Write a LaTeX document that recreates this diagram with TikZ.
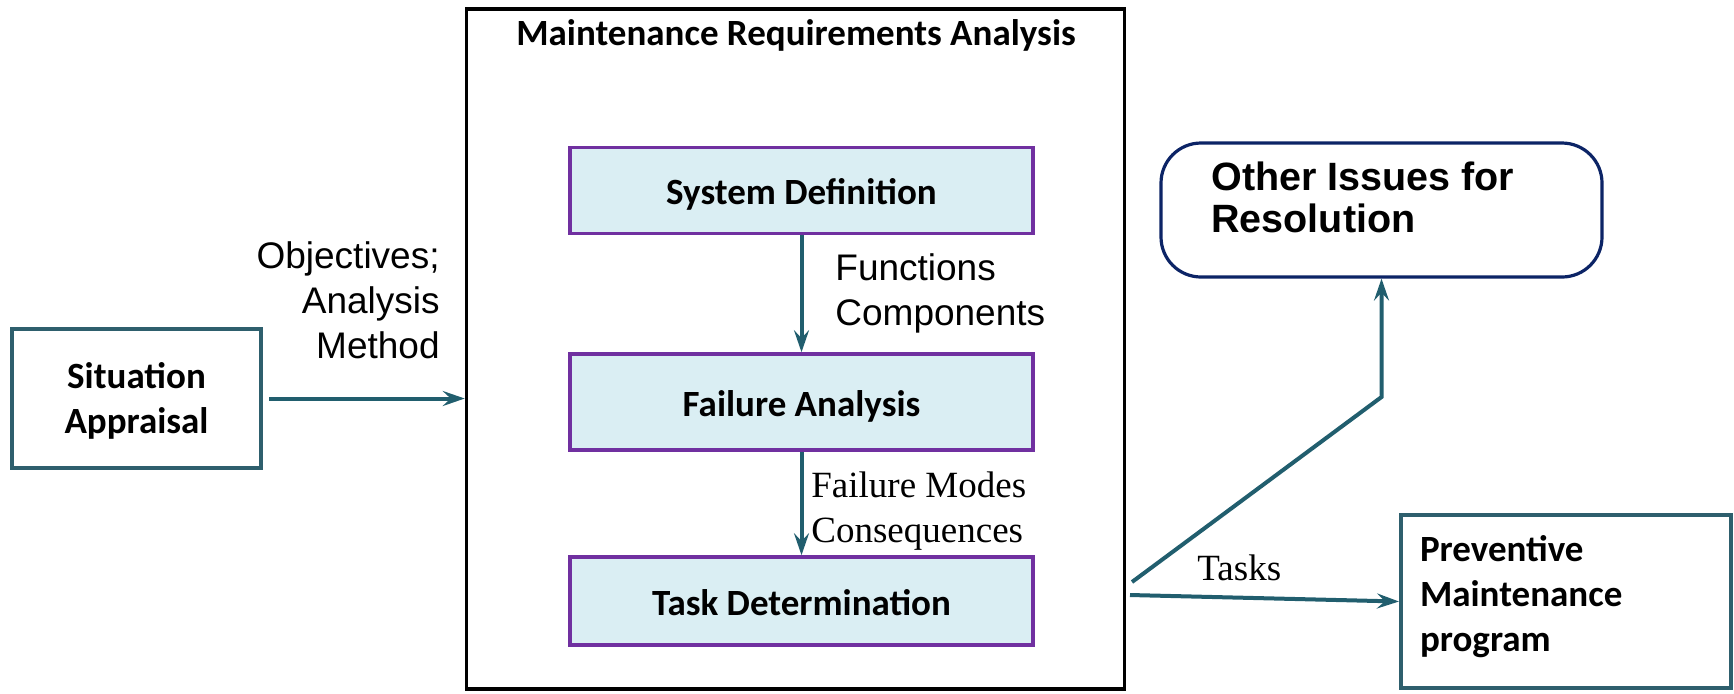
\documentclass[tikz,border=0pt]{standalone}
\usepackage{fontspec}
\setmainfont{Liberation Serif}
\newfontfamily\carlito{Carlito}
\newfontfamily\arialf{Liberation Sans}
\usetikzlibrary{arrows.meta}
\definecolor{tealA}{HTML}{215E6E}
\definecolor{tealB}{HTML}{2E5F6D}
\definecolor{purpleA}{HTML}{7030A0}
\definecolor{fillA}{HTML}{DAEEF3}
\definecolor{navyA}{HTML}{0C2466}
\begin{document}
\begin{tikzpicture}[x=0.5pt,y=-0.5pt,
  arr/.style={draw=tealA, line width=2pt, -{Stealth[length=11pt,width=7.5pt,inset=4pt]}},
  cbold/.style={font=\carlito\bfseries\fontsize{18.5}{22.5}\selectfont},
  ibox/.style={cbold, draw=purpleA, fill=fillA, line width=1.8pt, minimum width=231.5pt, inner sep=0pt, text height=14pt, text depth=0pt},
  obox/.style={draw=tealB, line width=2pt, inner sep=0pt},
  sanslabel/.style={font=\arialf\fontsize{18.5}{22.5}\selectfont, inner sep=0pt},
  seriflabel/.style={font=\fontsize{18.5}{22.5}\selectfont, inner sep=0pt}
]
\useasboundingbox (0,0) rectangle (1734,693);

% main frame
\node[draw=black, line width=1.75pt, minimum width=329pt, minimum height=340pt, inner sep=0pt] (main) at (795.5,349) {};
\node[cbold, anchor=base, inner sep=0pt] (title) at (796,45) {Maintenance Requirements Analysis};

% inner boxes
\node[ibox, minimum height=43pt] (sd) at (801.5,190.5) {System Definition};
\node[ibox, minimum height=48pt] (fa) at (801.5,402) {Failure Analysis};
\node[ibox, minimum height=44pt] (td) at (801.5,601) {Task Determination};

\draw[arr] (sd) -- (fa);
\draw[arr] (fa) -- (td);

\node[sanslabel, anchor=base west] (fc) at (835,280) {\vtop{\hbox{Functions}\hbox{Components}}};
\node[seriflabel, anchor=base west] (fm) at (811,497) {\vtop{\hbox{Failure Modes}\hbox{Consequences}}};

% situation appraisal
\node[obox, cbold, minimum width=124.5pt, minimum height=69.5pt, text height=12pt, text depth=22.5pt] (sa) at (136.5,398.5) {\vtop{\halign{\hfil#\hfil\cr Situation\cr Appraisal\cr}}};
\node[sanslabel, anchor=base east] (obj) at (440,268) {\vtop{\halign{\hfil#\cr Objectives;\cr Analysis\cr Method\cr}}};
\draw[arr] ([xshift=3pt]sa.east) -- (sa.east -| main.west);

% other issues
\node[draw=navyA, line width=1.6pt, rounded corners=20pt, minimum width=220.5pt, minimum height=67pt, inner sep=0pt] (oi) at (1381.5,210) {};
\node[font=\arialf\bfseries\fontsize{19.75}{21}\selectfont, inner sep=0pt, anchor=base west] (oit) at (1211,190) {\vtop{\hbox{Other Issues for}\hbox{Resolution}}};

% preventive maintenance
\node[obox, cbold, text width=146pt, inner xsep=9.5pt, minimum height=86.5pt, text height=12pt, text depth=52.5pt] (pm) at (1566,601.5) {\vtop{\hbox{Preventive}\hbox{Maintenance}\hbox{program}}};

% outputs
\coordinate (d0) at (1132,582);
\coordinate (bend) at (1382,397);
\coordinate (t0) at (1130,595);
\draw[arr] (d0) -- (oi.south |- bend) -- (oi.south);
\draw[arr] (t0) -- (pm.west);
\node[seriflabel, anchor=base west] (tasks) at (1197,580) {Tasks};
\end{tikzpicture}
\end{document}
